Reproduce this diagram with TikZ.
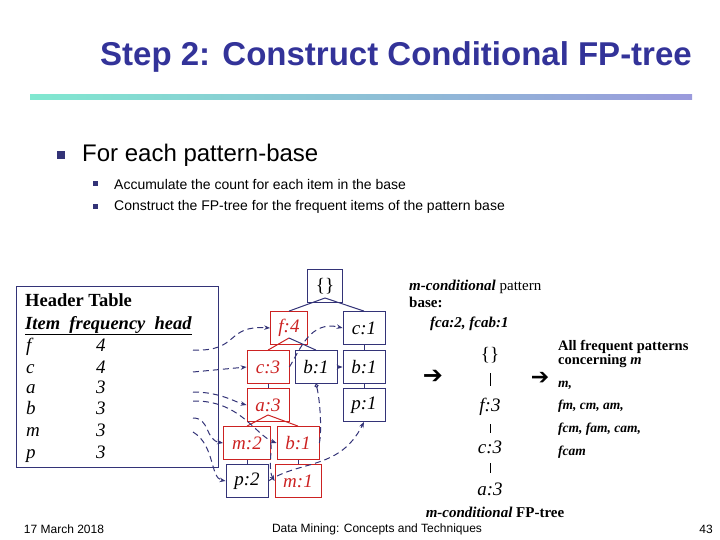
\documentclass[tikz,border=0pt]{standalone}
\usepackage{fontspec}
\setmainfont{Liberation Serif}
\newfontfamily\sans{Liberation Sans}
\newfontfamily\dejavu{DejaVu Sans}
\usetikzlibrary{arrows.meta}
\definecolor{navy}{HTML}{333377}
\definecolor{ttl}{HTML}{333399}
\definecolor{rd}{HTML}{CC2222}
\definecolor{teal}{HTML}{80E8D0}
\definecolor{lav}{HTML}{9A9ADC}
\tikzset{
 bn/.style={draw=navy,line width=0.8pt,minimum width=42pt,minimum height=33pt,inner sep=1pt,font=\fontsize{19}{19}\selectfont\itshape},
 rn/.style={bn,draw=rd,text=rd},
 te/.style={draw=navy,line width=1pt},
 re/.style={draw=rd,line width=1pt},
 lk/.style={draw=navy,line width=1pt,dashed,dash pattern=on 6pt off 4pt,-{Stealth[length=6pt]}},
 tx/.style={inner sep=0pt,anchor=base west,font=\fontsize{18}{18}\selectfont},
 rt/.style={inner sep=0pt,font=\fontsize{15}{15}\selectfont}
}
\begin{document}
\begin{tikzpicture}[x=1pt,y=-1pt]
\useasboundingbox (0,0) rectangle (720,540);
% title
\node[font=\sans\bfseries\fontsize{33}{33}\selectfont,text=ttl] (title) at (396,57) {Step 2: Construct Conditional FP-tree};
\shade[left color=teal,right color=lav] (30,95) rectangle (692,100);
% bullets
\fill[navy] (57,151) rectangle (65,159);
\node[font=\sans\fontsize{24}{24}\selectfont,anchor=west,inner sep=0pt] (b1) at (82,155) {For each pattern-base};
\fill[navy] (93,181) rectangle (98,186);
\fill[navy] (93,204) rectangle (98,209);
\node[font=\sans\fontsize{14}{14}\selectfont,anchor=west,inner sep=0pt] (b2) at (114,184) {Accumulate the count for each item in the base};
\node[font=\sans\fontsize{14}{14}\selectfont,anchor=west,inner sep=0pt] (b3) at (114,207) {Construct the FP-tree for the frequent items of the pattern base};
% header table
\draw[navy,line width=0.8pt] (16,286) rectangle (218,467);
\node[tx,font=\fontsize{18.5}{18}\selectfont\bfseries] (ht) at (25,306) {Header Table};
\node[tx,font=\fontsize{18.5}{18}\selectfont\bfseries\itshape] (hi) at (25,329) {\underline{Item\ \ frequency\ \ head}};
\foreach \i/\f/\y in {f/4/351,c/4/373,a/3/393,b/3/414,m/3/436,p/3/458}{
 \node[tx,font=\fontsize{19}{19}\selectfont\itshape] (r\i) at (26,\y) {\i};
 \node[tx,font=\fontsize{19}{19}\selectfont\itshape] (q\i) at (96,\y) {\f};
}
\coordinate (hf) at (193,350); \coordinate (hc) at (193,372);
\coordinate (ha) at (193,392); \coordinate (hb) at (193,401);
\coordinate (hm) at (193,418); \coordinate (hp) at (193,432);
% tree
\node[bn,minimum width=35pt] (root) at (325,286) {\upshape\{\}};
\node[rn,minimum width=37pt] (f4) at (289,328) {f:4};
\node[bn] (c1) at (364,328) {c:1};
\node[rn] (c3) at (268,367) {c:3};
\node[bn] (b1m) at (316,367) {b:1};
\node[bn] (b1r) at (364,367) {b:1};
\node[rn] (a3) at (268,405) {a:3};
\node[bn] (p1) at (364,405) {p:1};
\node[rn,minimum width=47pt] (m2) at (247,443) {m:2};
\node[rn] (b1l) at (298,443) {b:1};
\node[bn] (p2) at (247,481) {p:2};
\node[rn,minimum width=46pt] (m1) at (298,481) {m:1};
\coordinate (rj) at (325,298);
\draw[te] (rj) -- (f4.north); \draw[te] (rj) -- (c1.north);
\coordinate (fj) at (289,338);
\draw[re] (fj) -- (c3.north); \draw[te] (fj) -- (b1m.north);
\draw[te] (c3) -- (a3); \draw[te] (c1) -- (b1r); \draw[te] (b1r) -- (p1);
\coordinate (aj) at (268,415);
\draw[re] (aj) -- (m2.north); \draw[re] (aj) -- (b1l.north);
\draw[te] (m2) -- (p2); \draw[te] (b1l) -- (m1);
% links
\draw[lk] (hf) .. controls (240,352) and (225,325) .. (f4.west);
\draw[lk] (hc) -- (c3.west);
\draw[lk] (ha) .. controls (220,392) and (235,402) .. (a3.west);
\draw[lk] (hb) .. controls (240,400) and (255,435) .. (b1l.west);
\draw[lk] (hm) .. controls (210,418) and (205,440) .. (m2.west);
\draw[lk] (hp) .. controls (215,445) and (210,478) .. (p2.west);
\draw[lk] (c3.east) .. controls (300,350) and (310,320) .. (c1.west);
\draw[lk] (b1m.east) -- (b1r.west);
\draw[lk,-{Circle[open,length=4pt]}] (b1l.east) .. controls (322,430) and (320,400) .. (b1m.south);
\draw[lk] (m2.east) .. controls (272,452) and (268,470) .. (m1.west);
\draw[lk] (p2.east) .. controls (300,460) and (340,470) .. (p1.south);
% right side
\node[rt,anchor=base west] (cp1) at (409,290) {\textbf{\itshape m-conditional} pattern};
\node[rt,anchor=base west] (cp2) at (409,307) {\bfseries base:};
\node[rt,anchor=base west] (cp3) at (430,327) {\bfseries\itshape fca:2, fcab:1};
\node[font=\fontsize{19}{19}\selectfont] (e0) at (490,355) {\{\}};
\node[font=\fontsize{19}{19}\selectfont\itshape] (e1) at (490,407) {f:3};
\node[font=\fontsize{19}{19}\selectfont\itshape] (e2) at (490,447) {c:3};
\node[font=\fontsize{19}{19}\selectfont\itshape] (e3) at (490,489) {a:3};
\draw[black,line width=0.6pt] (490,373) -- (490,386);
\draw[black,line width=0.6pt] (490,424) -- (490,433);
\draw[black,line width=0.6pt] (490,463) -- (490,473);
\node[font=\dejavu\fontsize{24}{24}\selectfont,inner sep=0pt] (ar1) at (433,377) {➔};
\node[font=\dejavu\fontsize{22}{22}\selectfont,inner sep=0pt] (ar2) at (540,378) {➔};
\node[rt,anchor=base west,font=\bfseries\fontsize{14.5}{14}\selectfont] (al1) at (558,350) {All frequent patterns};
\node[rt,anchor=base west,font=\bfseries\fontsize{14.5}{14}\selectfont] (al2) at (558,364) {concerning \textit{m}};
\node[rt,anchor=base west,font=\bfseries\itshape\fontsize{13.5}{13}\selectfont] (al3) at (558,387) {m,};
\node[rt,anchor=base west,font=\bfseries\itshape\fontsize{13.5}{13}\selectfont] (al4) at (558,409) {fm, cm, am,};
\node[rt,anchor=base west,font=\bfseries\itshape\fontsize{13.5}{13}\selectfont] (al5) at (558,432) {fcm, fam, cam,};
\node[rt,anchor=base west,font=\bfseries\itshape\fontsize{13.5}{13}\selectfont] (al6) at (558,455) {fcam};
\node[rt] (ft) at (495,512) {\textbf{\itshape m-conditional} \textbf{FP-tree}};
% footer
\node[font=\sans\fontsize{12}{12}\selectfont] (d) at (64,529) {17 March 2018};
\node[font=\sans\fontsize{12}{12}\selectfont] (dm) at (377,529) {Data Mining: Concepts and Techniques};
\node[font=\sans\fontsize{12}{12}\selectfont] (pg) at (706,529) {43};
\end{tikzpicture}
\end{document}
